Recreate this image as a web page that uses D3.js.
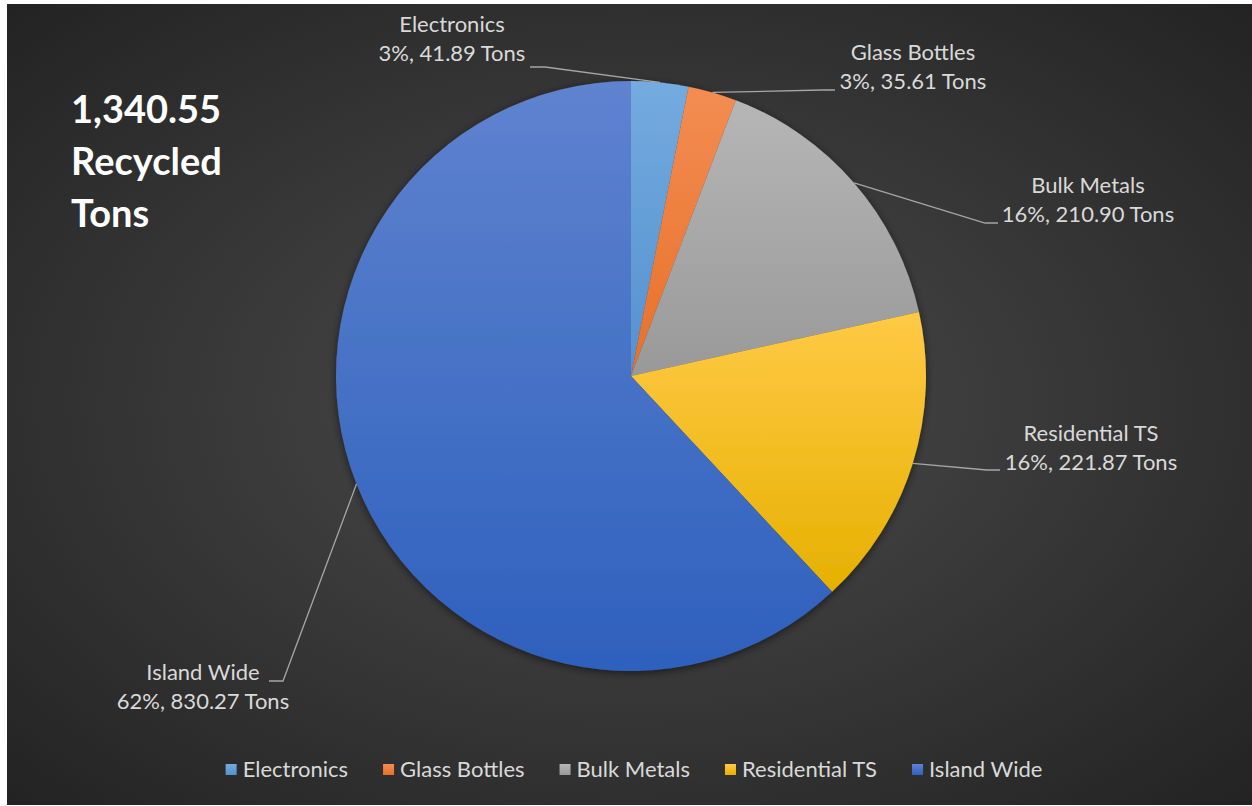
<!DOCTYPE html>
<html>
<head>
<meta charset="utf-8">
<script src="https://cdn.jsdelivr.net/npm/d3@7"></script>
<style>
  html, body { margin: 0; padding: 0; background: #ffffff; }
  svg { display: block; }
  text { font-family: Lato, "Open Sans", sans-serif; }
</style>
</head>
<body>
<svg id="chart" width="1252" height="806"></svg>
<script>
// Recycling totals by stream (tons)
const categories = ["Electronics", "Glass Bottles", "Bulk Metals", "Residential TS", "Island Wide"];
const tons = [41.89, 35.61, 210.90, 221.87, 830.27];
const percentLabels = ["3%", "3%", "16%", "16%", "62%"];
const headline = ["1,340.55", "Recycled", "Tons"];

// Slice colours: [top tint, bottom shade]
const sliceColors = [
  ["#74abdf", "#5491cf"],
  ["#f38d52", "#e7702a"],
  ["#b6b6b6", "#999999"],
  ["#ffca46", "#e6b000"],
  ["#5f83cf", "#2e60bd"]
];

const W = 1252, H = 806;
const svg = d3.select("#chart");
const defs = svg.append("defs");

// Chart area background
const bg = defs.append("radialGradient").attr("id", "bgGrad")
  .attr("cx", "50%").attr("cy", "50%").attr("r", "72%");
bg.append("stop").attr("offset", "0%").attr("stop-color", "#4c4c4c");
bg.append("stop").attr("offset", "100%").attr("stop-color", "#222222");

svg.append("rect").attr("x", 7).attr("y", 4)
  .attr("width", W - 7).attr("height", H - 5)
  .attr("fill", "url(#bgGrad)");

sliceColors.forEach((c, i) => {
  const g = defs.append("linearGradient").attr("id", "slice" + i)
    .attr("x1", 0).attr("y1", 0).attr("x2", 0).attr("y2", 1);
  g.append("stop").attr("offset", "0%").attr("stop-color", c[0]);
  g.append("stop").attr("offset", "100%").attr("stop-color", c[1]);
});

const shadow = defs.append("filter").attr("id", "pieShadow")
  .attr("x", "-10%").attr("y", "-10%").attr("width", "120%").attr("height", "120%");
shadow.append("feDropShadow").attr("dx", 0).attr("dy", 2)
  .attr("stdDeviation", 4).attr("flood-color", "#000").attr("flood-opacity", 0.55);

// Pie
const cx = 631, cy = 376, R = 295;
const data = categories.map((name, i) => ({ name, value: tons[i], pct: percentLabels[i], i }));
const pie = d3.pie().sort(null).value(d => d.value);
const arcs = pie(data);
const arc = d3.arc().innerRadius(0).outerRadius(R);

const pieG = svg.append("g").attr("transform", `translate(${cx},${cy})`)
  .attr("filter", "url(#pieShadow)");
pieG.selectAll("path").data(arcs).join("path")
  .attr("d", arc)
  .attr("fill", d => `url(#slice${d.data.i})`);

// Data labels with leader lines
// anchor: where the leader meets the label; stub: short horizontal segment before it
const labelLayout = [
  { tx: 452, ty: 32, ax: 530, ay: 67, stub: 15 },
  { tx: 913, ty: 60, ax: 835, ay: 90, stub: -13 },
  { tx: 1088, ty: 193, ax: 998, ay: 223, stub: -13 },
  { tx: 1091, ty: 441, ax: 1000, ay: 470, stub: -13 },
  { tx: 203, ty: 680, ax: 269, ay: 681, stub: 14 }
];
const fmt = d3.format(",.2f");
const labelG = svg.append("g");
arcs.forEach((a, k) => {
  const L = labelLayout[k];
  const mid = (a.startAngle + a.endAngle) / 2;
  const sx = cx + R * Math.sin(mid), sy = cy - R * Math.cos(mid);
  const path = d3.path();
  path.moveTo(sx, sy);
  path.lineTo(L.ax + L.stub, L.ay);
  path.lineTo(L.ax, L.ay);
  labelG.append("path").attr("d", path.toString())
    .attr("fill", "none").attr("stroke", "#a6a6a6").attr("stroke-width", 1.3);
  const t = labelG.append("text").attr("text-anchor", "middle")
    .attr("fill", "#d9d9d9").attr("font-size", 22);
  t.append("tspan").attr("x", L.tx).attr("y", L.ty).text(a.data.name);
  t.append("tspan").attr("x", L.tx).attr("y", L.ty + 29)
    .text(`${a.data.pct}, ${fmt(a.data.value)} Tons`);
});

// Headline total
const head = svg.append("text").attr("fill", "#ffffff")
  .attr("font-size", 38).attr("font-weight", 700);
headline.forEach((s, i) => {
  head.append("tspan").attr("x", 71).attr("y", 123 + i * 52).text(s);
});

// Legend
const legend = svg.append("g");
const items = legend.selectAll("g").data(data).join("g");
items.append("rect").attr("width", 11).attr("height", 11)
  .attr("y", 764).attr("fill", d => `url(#slice${d.i})`);
items.append("text").attr("x", 17).attr("y", 777)
  .attr("fill", "#d9d9d9").attr("font-size", 22).text(d => d.name);
let widths = [];
items.each(function () { widths.push(this.getBBox().width); });
const gap = 35;
const total = d3.sum(widths) + gap * (widths.length - 1);
let x0 = 634 - total / 2;
items.each(function (d, i) {
  d3.select(this).attr("transform", `translate(${x0},0)`);
  x0 += widths[i] + gap;
});
</script>
</body>
</html>
